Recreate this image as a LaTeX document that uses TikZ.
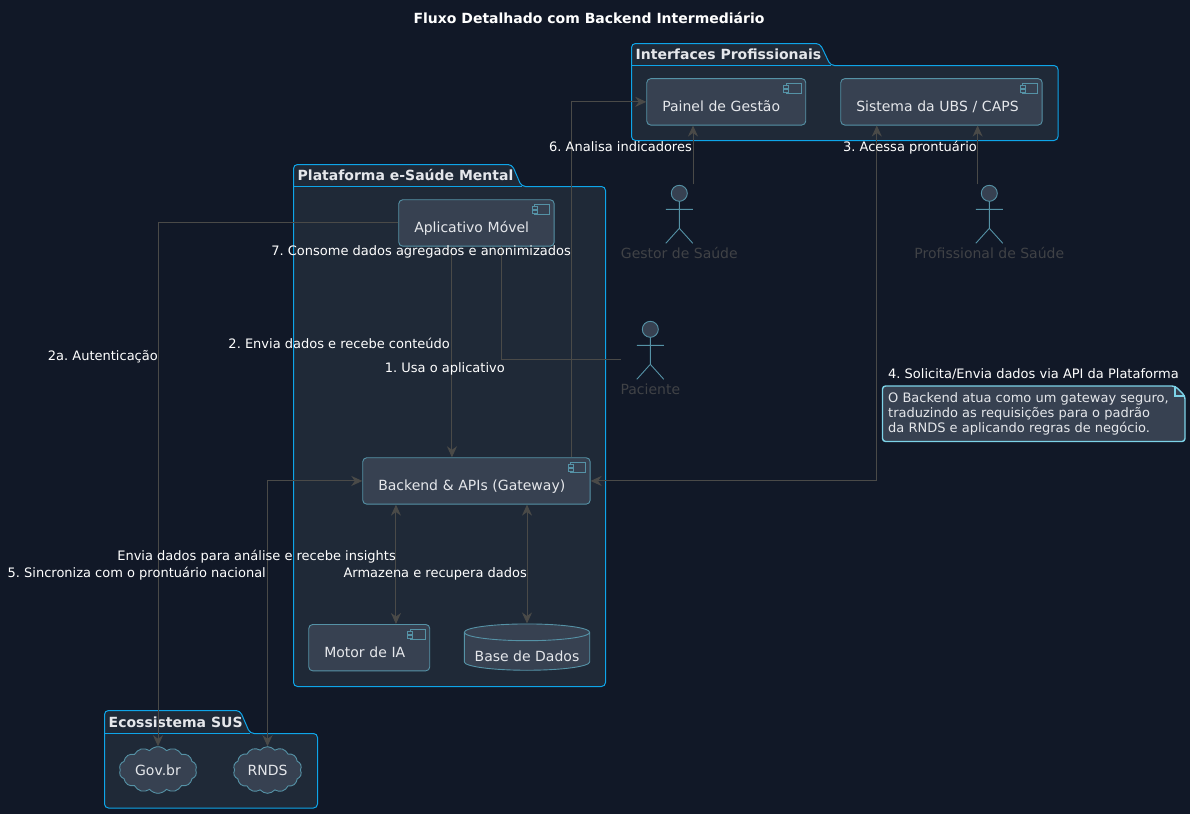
\documentclass[tikz,border=0pt]{standalone}
\usepackage{fontspec}
\setmainfont{DejaVu Sans}
\usetikzlibrary{positioning}
\usetikzlibrary{calc}
\usetikzlibrary{arrows.meta}
\usetikzlibrary{shapes.geometric}
\usetikzlibrary{shapes.symbols}
\definecolor{bgcol}{HTML}{111827}
\definecolor{pkgfill}{HTML}{1F2937}
\definecolor{pkgline}{HTML}{0EA5E9}
\definecolor{compfill}{HTML}{374151}
\definecolor{compline}{HTML}{5592A6}
\definecolor{linecol}{HTML}{4A4A48}
\definecolor{txtcol}{HTML}{E5E7EB}
\definecolor{actcol}{HTML}{404246}
\definecolor{notecol}{HTML}{7DD3E8}
\frenchspacing
\tikzset{
  comp/.style={draw=compline, line width=.9pt, fill=compfill, rounded corners=4pt, anchor=north west, inner xsep=15.5pt, inner ysep=0pt,
    minimum width=#1, text width=#1-31pt, minimum height=46.4pt, text height=20pt, text depth=0pt, align=left, text=txtcol, font=\fontsize{14}{16}\selectfont},
  nuvem/.style={draw=compline, line width=.9pt, fill=compfill, cloud, cloud puffs=14, cloud puff arc=100, aspect=1.6, inner sep=0pt,
    minimum width=#1, minimum height=46.6pt, text=txtcol, font=\fontsize{14}{16}\selectfont},
  pkgpath/.style={draw=pkgline, fill=pkgfill, line width=1pt},
  pkgtitle/.style={anchor=base west, inner sep=0pt, text=txtcol, font=\bfseries\fontsize{14}{16}\selectfont},
  rot/.style={anchor=base west, inner sep=0pt, text=white, font=\fontsize{13}{16}\selectfont},
  rotr/.style={rot, anchor=base east},
  actorbox/.style={inner sep=0pt, minimum width=27pt, minimum height=59pt},
  actorname/.style={inner sep=0pt, text=actcol, font=\fontsize{14}{16}\selectfont},
  link/.style={draw=linecol, line width=1pt},
  linkto/.style={link, -{Stealth[length=11pt,width=10pt,inset=3.5pt]}},
  linkboth/.style={link, {Stealth[length=11pt,width=10pt,inset=3.5pt]}-{Stealth[length=11pt,width=10pt,inset=3.5pt]}},
}
\newcommand{\pkgbox}[8]{%
  \draw[pkgpath, rounded corners=4pt] (#1,#3) -- (#1,#2) -- (#4,#2) -- (#5,#3) -- (#6,#3) -- (#6,#7) -- (#1,#7) -- cycle;
  \draw[draw=pkgline, line width=1pt] (#1,#3) -- (#5,#3);
  \node[pkgtitle] at (#1+4,#3-6) {#8};
}
\newcommand{\compicon}[1]{%
  \draw[draw=compline, line width=.9pt] ($(#1.north east)+(-20,5)$) rectangle ++(15,10);
  \draw[draw=compline, fill=compfill, line width=.9pt] ($(#1.north east)+(-22.5,7.5)$) rectangle ++(5,2.5);
  \draw[draw=compline, fill=compfill, line width=.9pt] ($(#1.north east)+(-22.5,11.5)$) rectangle ++(5,2.5);
}
\newcommand{\actorfig}[5]{%
  \node[actorbox, anchor=north] (#1) at (#2,#3-9) {};
  \draw[draw=compline, fill=compfill, line width=.9pt] (#2,#3) circle (8);
  \draw[draw=compline, line width=.9pt] (#2,#3+8) -- (#2,#3+35) (#2-13.5,#3+16) -- (#2+13.5,#3+16)
    (#2-13.5,#3+50) -- (#2,#3+35) -- (#2+13.5,#3+50);
  \node[actorname] (#4) at (#2,#3+60) {#5};
}
\begin{document}
\begin{tikzpicture}[x=1pt,y=-1pt]
  \useasboundingbox (0,0) rectangle (1190,814);
  \fill[bgcol] (0,0) rectangle (1190,814);

  \node[inner sep=0pt, text=white, font=\bfseries\fontsize{14}{16}\selectfont] (title) at (589,18) {Fluxo Detalhado com Backend Intermediário};

  \pkgbox{631.5}{43.5}{65.5}{820}{830.5}{1058}{140.5}{Interfaces Profissionais}
  \pkgbox{293.5}{164.5}{186.5}{512}{521.5}{605.5}{686.5}{Plataforma e-Saúde Mental}
  \pkgbox{104.5}{710.5}{733.5}{240}{250}{317.5}{808}{Ecossistema SUS}

  \node[comp=159pt] (painel) at (646.3,78.2) {Painel de Gestão};
  \node[comp=201.4pt] (ubs) at (840.3,78.2) {Sistema da UBS / CAPS};
  \node[comp=155.4pt] (app) at (398.3,199.3) {Aplicativo Móvel};
  \node[comp=227.4pt] (backend) at (362.3,457.3) {Backend \& APIs (Gateway)};
  \node[comp=121pt] (motor) at (308.3,624) {Motor de IA};
  \node[cylinder, shape border rotate=90, aspect=.16, draw=compline, line width=.9pt, fill=compfill, cylinder uses custom fill, cylinder body fill=compfill, cylinder end fill=compfill,
    minimum width=125.4pt, minimum height=46.3pt, inner sep=0pt, text height=20pt, text depth=0pt, text=txtcol, font=\fontsize{14}{16}\selectfont] (dados) at (527,651.5) {Base de Dados};
  \node[nuvem=77.7pt] (gov) at (158,770) {Gov.br};
  \node[nuvem=68.4pt] (rnds) at (267.5,770) {RNDS};

  \compicon{painel}
  \compicon{ubs}
  \compicon{app}
  \compicon{backend}
  \compicon{motor}

  \actorfig{gestor}{679.3}{193.3}{gestorname}{Gestor de Saúde}
  \actorfig{prof}{989.3}{193.3}{profname}{Profissional de Saúde}
  \actorfig{paciente}{650.3}{329.3}{pacname}{Paciente}

  \coordinate (pacout) at (621,359);
  \coordinate (appdown) at (501,245.7);

  \draw[linkto] (gestor.north east) -- (gestor.north east |- painel.south);
  \draw[linkto] ([xshift=2pt]prof.north west) -- ([xshift=2pt]prof.north west |- ubs.south);
  \draw[link] (pacout) -| (appdown);
  \draw[linkto] ([xshift=-24.5pt]backend.north |- app.south) -- ([xshift=-24.5pt]backend.north);
  \draw[linkto] (app.west) -| (gov.north);
  \draw[linkboth] (backend.west) -| (rnds.north);
  \draw[linkto] ([xshift=95.5pt]backend.north) |- (painel.west);
  \draw[linkboth] ([xshift=36.5pt]ubs.south west) |- (backend.east);
  \draw[linkboth] ([xshift=26.7pt]motor.north) -- ([xshift=-80.5pt]backend.south);
  \draw[linkboth] (dados.north) -- (backend.south -| dados.north);

  \node[rotr] (l6) at (692,151) {6. Analisa indicadores};
  \node[rotr] (l3) at (977,151) {3. Acessa prontuário};
  \node[rotr] (l7) at (571,255) {7. Consome dados agregados e anonimizados};
  \node[rotr] (l2a) at (158,360) {2a. Autenticação};
  \node[rotr] (l2) at (450,348) {2. Envia dados e recebe conteúdo};
  \node[rotr] (l1) at (505,372) {1. Usa o aplicativo};
  \node[rot] (l4) at (888,378) {4. Solicita/Envia dados via API da Plataforma};
  \node[rotr] (lia) at (396,560) {Envia dados para análise e recebe insights};
  \node[rotr] (l5) at (266,577) {5. Sincroniza com o prontuário nacional};
  \node[rotr] (ldb) at (527,577) {Armazena e recupera dados};

  \draw[draw=notecol, fill=compfill, line width=1.4pt, rounded corners=3pt] (882.5,386) -- (1175,386) -- (1185,396) -- (1185,441.5) -- (882.5,441.5) -- cycle;
  \draw[draw=notecol, line width=1.4pt] (1175,386) -- (1175,396) -- (1185,396);
  \node[anchor=north west, inner sep=0pt, align=left, text=txtcol, font=\fontsize{13}{15}\selectfont] (nota) at (888,392) {O Backend atua como um gateway seguro,\\traduzindo as requisições para o padrão\\da RNDS e aplicando regras de negócio.};
\end{tikzpicture}
\end{document}
